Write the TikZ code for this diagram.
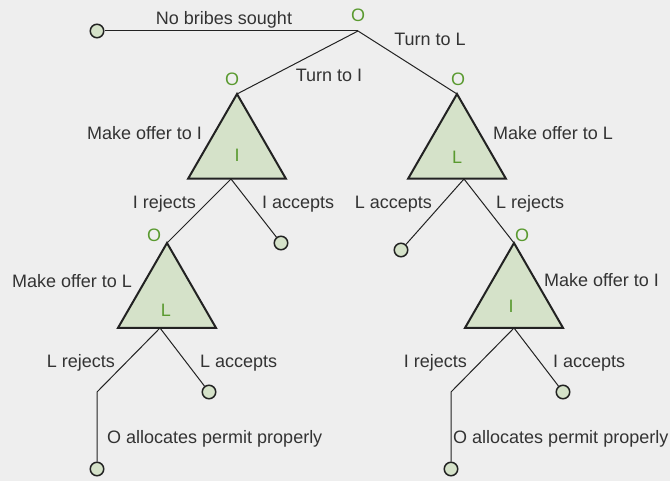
\documentclass[tikz,border=0pt]{standalone}
\usepackage{fontspec}
\setmainfont{Liberation Sans}
\usetikzlibrary{shapes.geometric}
\definecolor{bg}{HTML}{EEEEEE}
\definecolor{tfill}{HTML}{D5E2C9}
\definecolor{ogreen}{HTML}{5A9A30}
\definecolor{ink}{HTML}{333333}
\definecolor{edge}{HTML}{222222}
\begin{document}
\begin{tikzpicture}[x=1bp,y=-1bp,
  tri/.style={regular polygon, regular polygon sides=3, minimum size=113bp, inner sep=0pt, outer sep=0pt, draw=edge, line width=2bp, fill=tfill},
  leaf/.style={circle, minimum size=13.5bp, inner sep=0pt, draw=edge, line width=1.5bp, fill=tfill},
  lab/.style={text=ink, font=\fontsize{18bp}{21bp}\selectfont, inner sep=0pt},
  who/.style={text=ogreen, font=\fontsize{18bp}{21bp}\selectfont, inner sep=0pt, anchor=base},
  br/.style={draw=edge, line width=1bp}]
\fill[bg] (0,0) rectangle (670,481);
\useasboundingbox (0,0) rectangle (670,481);

% decision points and triangles
\coordinate (root) at (358,31);
\node[tri] (T1) at (237,150.5) {};
\node[tri] (T2) at (457,150.5) {};
\node[tri] (T3) at (167,299.5) {};
\node[tri] (T4) at (514,299.5) {};
\coordinate (b1) at (231,179);
\coordinate (b2) at (464,179);
\coordinate (b3) at (160,328);
\coordinate (b4) at (514,328);
\coordinate (k3) at (97,392);
\coordinate (k4) at (451,392);

% leaves
\node[leaf] (c0) at (97,31) {};
\node[leaf] (c1) at (281,243) {};
\node[leaf] (c2) at (401,250) {};
\node[leaf] (c4) at (209,392) {};
\node[leaf] (c6) at (563,392) {};
\node[leaf] (c3) at (97,469) {};
\node[leaf] (c5) at (451,469) {};

% connectors
\draw[br] (root) -- (c0);
\draw[br] (root) -- (T1.corner 1);
\draw[br] (root) -- (T2.corner 1);
\draw[br] (b1) -- (T3.corner 1);
\draw[br] (b1) -- (c1);
\draw[br] (b2) -- (c2);
\draw[br] (b2) -- (T4.corner 1);
\draw[br] (b3) -- (k3) -- (c3);
\draw[br] (b3) -- (c4);
\draw[br] (b4) -- (k4) -- (c5);
\draw[br] (b4) -- (c6);

% player labels
\node[who] (o0) at (358,22) {O};
\node[who] (o1) at (232,86) {O};
\node[who] (o2) at (458,86) {O};
\node[who] (o3) at (154,242) {O};
\node[who] (o4) at (522,242) {O};
\node[who] (p1) at (237,161.7) {I};
\node[who] (p2) at (457,163.3) {L};
\node[who] (p3) at (166,316) {L};
\node[who] (p4) at (511,312.7) {I};

% action labels
\node[lab, anchor=base] (t0) at (224,25) {No bribes sought};
\node[lab, anchor=base] (t1) at (430,46) {Turn to L};
\node[lab, anchor=base] (t2) at (329,82) {Turn to I};
\node[lab, anchor=base east] (t3) at (202,139.3) {Make offer to I};
\node[lab, anchor=base west] (t4) at (493,139.3) {Make offer to L};
\node[lab, anchor=base east] (t5) at (196,209) {I rejects};
\node[lab, anchor=base west] (t6) at (262,209) {I accepts};
\node[lab, anchor=base east] (t7) at (432,209) {L accepts};
\node[lab, anchor=base west] (t8) at (496,209) {L rejects};
\node[lab, anchor=base east] (t9) at (132,287.3) {Make offer to L};
\node[lab, anchor=base west] (t10) at (544,286.7) {Make offer to I};
\node[lab, anchor=base east] (t11) at (115,367.3) {L rejects};
\node[lab, anchor=base west] (t12) at (200,367.3) {L accepts};
\node[lab, anchor=base east] (t13) at (467,367.3) {I rejects};
\node[lab, anchor=base west] (t14) at (553,367.3) {I accepts};
\node[lab, anchor=base west] (t15) at (107,443.3) {O allocates permit properly};
\node[lab, anchor=base east] (t16) at (668.5,443.3) {O allocates permit properly};
\end{tikzpicture}
\end{document}
